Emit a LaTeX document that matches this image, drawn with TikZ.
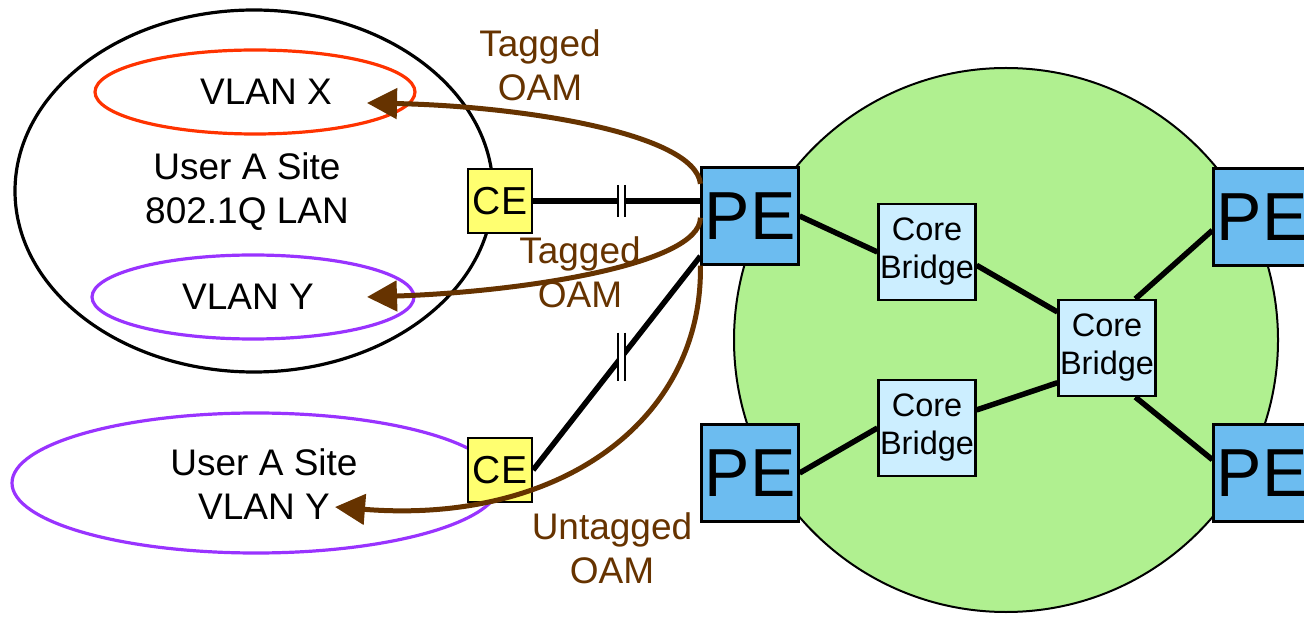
\documentclass[tikz,border=0pt]{standalone}
\usepackage{fontspec}
\setmainfont{Liberation Sans}
\usetikzlibrary{arrows.meta,shapes.geometric,calc}
\definecolor{oam}{HTML}{663300}
\definecolor{peblue}{HTML}{6CBCF0}
\definecolor{ceyellow}{HTML}{FFFF70}
\definecolor{corefill}{HTML}{CCEEFF}
\definecolor{cloudgreen}{HTML}{B0F090}
\definecolor{vlanx}{HTML}{FF3300}
\definecolor{vlany}{HTML}{9933FF}
\begin{document}
\begin{tikzpicture}[x=1pt,y=-1pt,
  pebox/.style={draw, line width=2.2pt, fill=peblue, minimum width=97pt, minimum height=97pt, inner sep=0pt, font=\fontsize{68}{74}\selectfont},
  cebox/.style={draw, line width=2.2pt, fill=ceyellow, minimum width=64pt, minimum height=64pt, inner sep=0pt, font=\fontsize{39}{44}\selectfont},
  corebox/.style={draw, line width=2.2pt, fill=corefill, minimum width=97pt, minimum height=96pt, inner sep=0pt, align=center, font=\fontsize{32.5}{38}\selectfont},
  link/.style={line width=5.5pt},
  oamarrow/.style={draw=oam, line width=5pt, -{Triangle[length=30pt,width=30pt]}},
  oamlabel/.style={text=oam, align=center, font=\fontsize{37}{44}\selectfont},
  sitelabel/.style={align=center, font=\fontsize{37}{44}\selectfont},
  lan/.style={ellipse, draw, line width=3.2pt, inner sep=0pt},
]
\useasboundingbox (0,0) rectangle (1304,617);
\clip (0,0) rectangle (1304,617);

% provider network cloud
\node[circle, draw, line width=2pt, fill=cloudgreen, minimum size=544pt, inner sep=0pt] (cloud) at (1006,340) {};

% user sites
\node[lan, minimum width=478pt, minimum height=362pt] (siteA) at (254,191) {};
\node[lan, draw=vlanx, minimum width=320pt, minimum height=84pt] (vlanX) at (255,92) {};
\node[lan, draw=vlany, minimum width=322pt, minimum height=84pt] (vlanY) at (253,297) {};
\node[lan, draw=vlany, minimum width=488pt, minimum height=140pt] (siteB) at (256,483) {};

\node[sitelabel] (lx) at (266,92) {VLAN X};
\node[sitelabel] (la) at (247,192) {User A Site\\802.1Q LAN};
\node[sitelabel] (ly) at (248,297) {VLAN Y};
\node[sitelabel] (lb) at (264,484) {User A Site\\VLAN Y};

% boxes
\node[pebox] (pe1) at (750,216) {PE};
\node[pebox] (pe2) at (750,473) {PE};
\node[pebox] (pe3) at (1262,217) {PE};
\node[pebox] (pe4) at (1262,473) {PE};
\node[corebox] (core1) at (927,252) {Core\\Bridge};
\node[corebox] (core2) at (927,428) {Core\\Bridge};
\node[corebox] (core3) at (1107,348) {Core\\Bridge};

% links
\draw[link] (pe1.east) -- (core1.west);
\draw[link] (core1.-15) -- (core3.144);
\draw[link] (core3.60) -- (pe3.195);
\draw[link] (core3.-60) -- (pe4.165);
\draw[link] (core2.20) -- (core3.215);
\draw[link] (pe2.east) -- (core2.west);

\node[cebox] (ce1) at (500,201) {CE};
\node[cebox] (ce2) at (500,470) {CE};

\draw[link] (ce1.east) -- coordinate[pos=0.53] (t1) (pe1.west |- ce1.east);
\draw[link] (ce2.east) -- coordinate[pos=0.53] (t2) (pe1.219);

% break marks
\fill[white] ($(t1)+(-3,-17)$) rectangle ($(t1)+(3,17)$);
\draw[line width=1.6pt] ($(t1)+(-3.5,-16)$) -- ($(t1)+(-3.5,16)$) ($(t1)+(3.5,-16)$) -- ($(t1)+(3.5,16)$);
\fill[white] ($(t2)+(-3,-24)$) rectangle ($(t2)+(3,24)$);
\draw[line width=1.6pt] ($(t2)+(-3.5,-24)$) -- ($(t2)+(-3.5,24)$) ($(t2)+(3.5,-24)$) -- ($(t2)+(3.5,24)$);

% OAM flows
\coordinate (tipX) at (367,103);
\coordinate (tipY) at (367,297);
\coordinate (tipB) at (335,507);
\draw[oamarrow] (pe1.147) .. controls (695,133) and (520,106) .. (tipX);
\draw[oamarrow] (pe1.182) .. controls (700,265) and (520,292) .. (tipY);
\draw[oamarrow] (pe1.south west) .. controls (703,420) and (560,525) .. (tipB);

\node[oamlabel] (o1) at (540,65) {Tagged\\OAM};
\node[oamlabel] (o2) at (580,272) {Tagged\\OAM};
\node[oamlabel] (o3) at (612,548) {Untagged\\OAM};
\end{tikzpicture}
\end{document}
